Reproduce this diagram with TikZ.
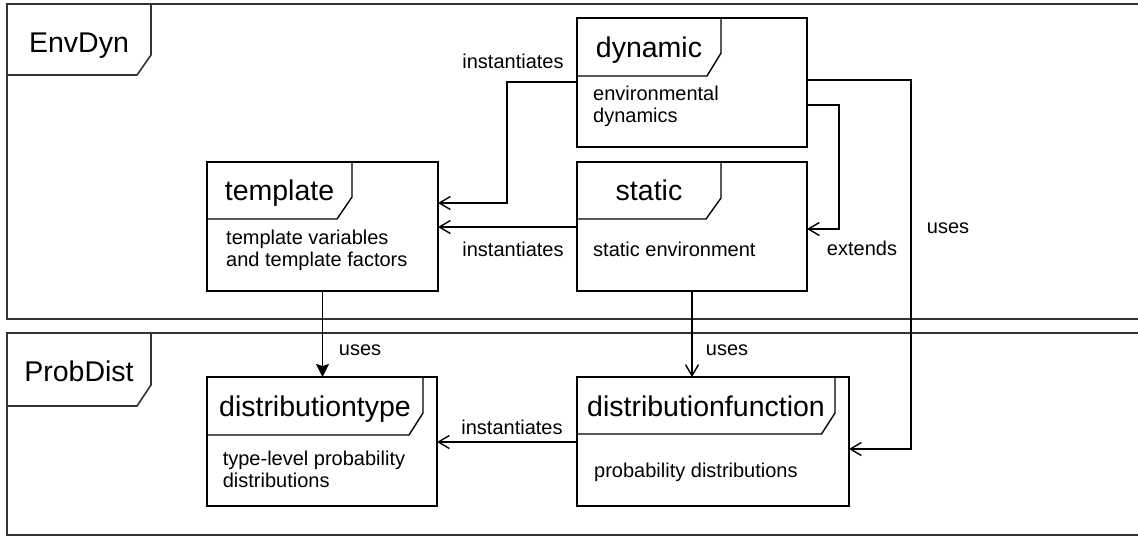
\documentclass[tikz,border=0pt]{standalone}
\usepackage{fontspec}
\setmainfont{Liberation Sans}
\usetikzlibrary{arrows.meta}
\begin{document}
\begin{tikzpicture}[x=1pt,y=-1pt,
  ln/.style={line width=1.4pt, draw=black},
  frm/.style={line width=1.6pt, draw=black!80},
  box/.style={ln, rectangle, inner sep=0pt, outer sep=0pt, anchor=north west},
  ttl/.style={font=\fontsize{28.5}{30}\selectfont, anchor=base, inner sep=0pt},
  body/.style={font=\fontsize{20}{22}\selectfont, anchor=base west, inner sep=0pt},
  lbl/.style={font=\fontsize{20}{22}\selectfont, anchor=base, inner sep=0pt},
  openarr/.style={ln, -{Straight Barb[length=11pt,width=13pt]}},
  fillarr/.style={ln, -{Stealth[length=13pt,width=13pt,inset=2pt]}}]
\useasboundingbox (0,0) rectangle (1138,536);

% frames
\draw[frm] (1140,4) -- (7,4) -- (7,319) -- (1140,319);
\draw[frm] (151,4) -- (151,55) -- (137,75) -- (7,75);
\node[ttl] (envdyn) at (79,52) {EnvDyn};
\draw[frm] (1140,333) -- (7,333) -- (7,535) -- (1140,535);
\draw[frm] (151,333) -- (151,385) -- (137,406) -- (7,406);
\node[ttl] (probdist) at (79,381) {ProbDist};

% boxes
\node[box, minimum width=230pt, minimum height=129pt] (dyn) at (577,18) {};
\draw[ln] (dyn.north west) ++(144,0) -- ++(0,35) -- ++(-14,23) -- ++(-130,0);
\node[ttl] (dynt) at (649,57) {dynamic};
\node[body] (dynb) at (593,100) {\begin{tabular}[t]{@{}l@{}}environmental\\dynamics\end{tabular}};

\node[box, minimum width=231pt, minimum height=129pt] (tmpl) at (207,162) {};
\draw[ln] (tmpl.north west) ++(145,0) -- ++(0,35) -- ++(-15,22) -- ++(-130,0);
\node[ttl] (tmplt) at (279.5,200) {template};
\node[body] (tmplb) at (226,244) {\begin{tabular}[t]{@{}l@{}}template variables\\and template factors\end{tabular}};

\node[box, minimum width=230pt, minimum height=129pt] (stat) at (577,162) {};
\draw[ln] (stat.north west) ++(144,0) -- ++(0,36) -- ++(-15,21) -- ++(-129,0);
\node[ttl] (statt) at (649,200.7) {static};
\node[body] (statb) at (593,256) {static environment};

\node[box, minimum width=230pt, minimum height=129pt] (dtype) at (207,377) {};
\draw[ln] (dtype.north west) ++(216,0) -- ++(0,36) -- ++(-14,22) -- ++(-202,0);
\node[ttl] (dtypet) at (315,416.5) {distributiontype};
\node[body] (dtypeb) at (222.6,465) {\begin{tabular}[t]{@{}l@{}}type-level probability\\distributions\end{tabular}};

\node[box, minimum width=272pt, minimum height=129pt] (dfunc) at (577,377) {};
\draw[ln] (dfunc.north west) ++(258,0) -- ++(0,36) -- ++(-13.5,21) -- ++(-244.5,0);
\node[ttl] (dfunct) at (706,416) {distributionfunction};
\node[body] (dfuncb) at (594,477) {probability distributions};

% connectors
\draw[openarr] (dyn.west |- 0,82) -| (507,203) -- (tmpl.east |- 0,203);
\node[lbl] (l1) at (513,68.3) {instantiates};

\draw[openarr] (stat.west |- 0,227) -- (tmpl.east |- 0,227);
\node[lbl] (l2) at (513,256) {instantiates};

\draw[openarr] (dyn.east |- 0,105) -| (839,229) -- (stat.east |- 0,229);
\node[lbl] (l3) at (862,255) {extends};

\draw[openarr] (dyn.east |- 0,80) -| (911,449) -- (dfunc.east |- 0,449);
\node[lbl] (l4) at (948,233.3) {uses};

\draw[openarr] (stat.south) -- (stat.south |- dfunc.north);
\node[lbl] (l5) at (727,355) {uses};

\draw[fillarr] (tmpl.south) -- (tmpl.south |- dtype.north);
\node[lbl] (l6) at (360,355) {uses};

\draw[openarr] (dfunc.west |- 0,442) -- (dtype.east |- 0,442);
\node[lbl] (l7) at (512,434) {instantiates};
\end{tikzpicture}
\end{document}
